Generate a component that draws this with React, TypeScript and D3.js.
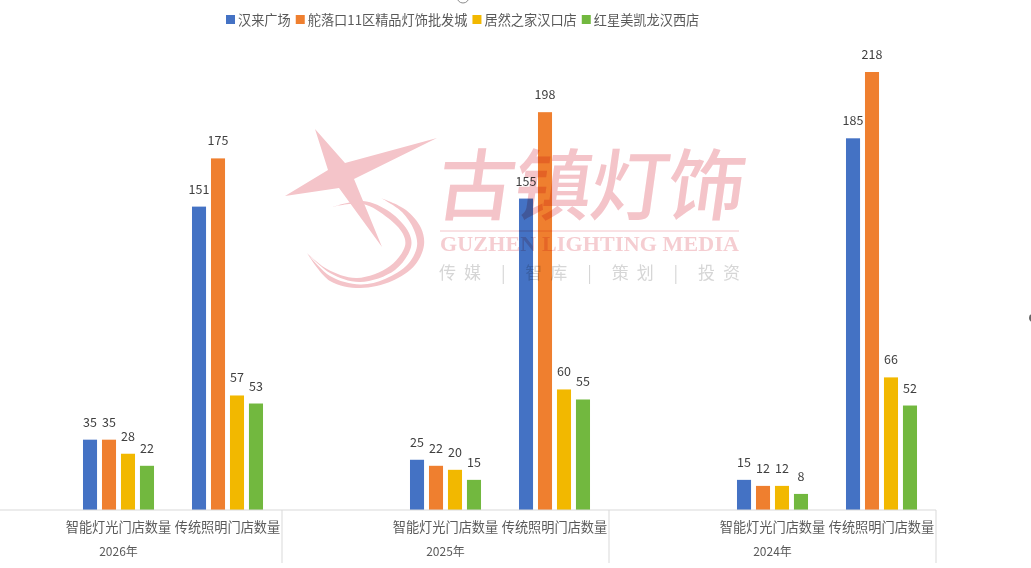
import React, { useEffect, useRef } from 'react';
import * as d3 from 'd3';

const years = ['2026年', '2025年', '2024年'];
const categories = ['', '智能灯光门店数量', '传统照明门店数量'];
const seriesNames = ['汉来广场', '舵落口11区精品灯饰批发城', '居然之家汉口店', '红星美凯龙汉西店'];
const seriesColors = ['#4472c4', '#ef7f2f', '#f2b800', '#72b83f'];

// one row per year, one value per series: [smart, traditional]
const hanlai = [[35, 151], [25, 155], [15, 185]];
const tuoluokou = [[35, 175], [22, 198], [12, 218]];
const juran = [[28, 57], [20, 60], [12, 66]];
const hongxing = [[22, 53], [15, 55], [8, 52]];
const seriesValues = [hanlai, tuoluokou, juran, hongxing];

const sans = '"Noto Sans CJK SC", "Noto Sans", sans-serif';
const pink = '#f4c4c9';

// Logo outline
const starPath = 'M315,129 L345,163 L437,138 L354,179 L382,247 L339,188 L285,196 L328,170 Z';
const innerSwooshOuter: [number, number][] = [[332, 207], [363, 201], [390, 212], [409, 233], [411, 247], [395, 270], [360, 282], [330, 273], [307, 253]];
const innerSwooshInner: [number, number][] = [[332, 207], [363, 204], [388, 218], [403, 234], [405, 246], [390, 266], [357, 278], [327, 269], [307, 253]];
const outerSwooshOuter: [number, number][] = [[381, 198], [406, 210], [421, 228], [424, 245], [415, 265], [392, 281], [360, 288], [330, 281], [307, 253]];
const outerSwooshInner: [number, number][] = [[381, 198], [402, 212], [414, 230], [417, 246], [408, 264], [385, 279], [360, 284.5], [330, 276], [307, 253]];

const crescent = (a: [number, number][], b: [number, number][]) => {
  const line = d3.line().curve(d3.curveCatmullRom);
  return `${line(a)}L${line([...b].reverse())!.slice(1)}Z`;
};

const App: React.FC = () => {
  const svgRef = useRef<SVGSVGElement | null>(null);

  useEffect(() => {
    const svgEl = svgRef.current;
    if (!svgEl) return;
    const svg = d3.select(svgEl);
    svg.selectAll('*').remove();

    const baseline = 510;
    const x0 = d3.scaleBand().domain(years).range([-45, 936]);
    const x1 = d3.scaleBand().domain(categories).range([0, x0.bandwidth()]);
    const x2 = d3.scaleBand().domain(seriesNames).range([0, x1.bandwidth()]).paddingInner(0.26).paddingOuter(1);
    const y = d3.scaleLinear().domain([0, 218]).range([baseline, 72]);

    // Bars and value labels
    const bars = svg.append('g');
    seriesNames.forEach((name, s) => {
      years.forEach((year, yi) => {
        categories.slice(1).forEach((cat, ci) => {
          const v = seriesValues[s][yi][ci];
          const bx = x0(year)! + x1(cat)! + x2(name)!;
          bars.append('rect')
            .attr('x', bx)
            .attr('y', y(v))
            .attr('width', x2.bandwidth())
            .attr('height', baseline - y(v))
            .attr('fill', seriesColors[s]);
          bars.append('text')
            .attr('x', bx + x2.bandwidth() / 2)
            .attr('y', y(v) - 13)
            .attr('text-anchor', 'middle')
            .attr('font-size', 12.5)
            .attr('fill', '#404040')
            .text(v);
        });
      });
    });

    // Axis
    const axis = svg.append('g');
    axis.append('line')
      .attr('x1', 0).attr('x2', x0.range()[1])
      .attr('y1', baseline).attr('y2', baseline)
      .attr('stroke', '#d9d9d9');
    years.forEach((year) => {
      const right = x0(year)! + x0.bandwidth();
      axis.append('line')
        .attr('x1', right).attr('x2', right)
        .attr('y1', baseline).attr('y2', 563)
        .attr('stroke', '#d9d9d9');
      axis.append('text')
        .attr('x', x0(year)! + x0.bandwidth() / 2)
        .attr('y', 556)
        .attr('text-anchor', 'middle')
        .attr('font-size', 12)
        .attr('fill', '#595959')
        .text(year);
      categories.slice(1).forEach((cat) => {
        axis.append('text')
          .attr('x', x0(year)! + x1(cat)! + x1.bandwidth() / 2)
          .attr('y', 532)
          .attr('text-anchor', 'middle')
          .attr('font-size', 13.2)
          .attr('fill', '#595959')
          .text(cat);
      });
    });

    // Legend, laid out from the measured text widths
    const legend = svg.append('g');
    let lx = 226;
    seriesNames.forEach((name, s) => {
      legend.append('rect')
        .attr('x', lx).attr('y', 15)
        .attr('width', 9).attr('height', 9)
        .attr('fill', seriesColors[s]);
      const t = legend.append('text')
        .attr('x', lx + 12)
        .attr('y', 25)
        .attr('font-size', 13.2)
        .attr('fill', '#595959')
        .text(name);
      lx += 12 + (t.node() as SVGTextElement).getComputedTextLength() + 5;
    });

    // Watermark logo
    const mark = svg.append('g').style('mix-blend-mode', 'multiply');
    mark.append('path').attr('fill', pink).attr('d', starPath);
    mark.append('path').attr('fill', pink).attr('d', crescent(innerSwooshOuter, innerSwooshInner));
    mark.append('path').attr('fill', pink).attr('d', crescent(outerSwooshOuter, outerSwooshInner));

    const brandChars = ['古', '镇', '灯', '饰'];
    const brandX = d3.scalePoint<string>().domain(brandChars).range([473, 703]);
    brandChars.forEach((c) => {
      mark.append('text')
        .attr('transform', `translate(${brandX(c)},214) skewX(-8)`)
        .attr('text-anchor', 'middle')
        .attr('font-size', 78)
        .attr('font-weight', 500)
        .attr('fill', pink)
        .text(c);
    });
    mark.append('line')
      .attr('x1', 440).attr('x2', 739)
      .attr('y1', 231).attr('y2', 231)
      .attr('stroke', pink);
    mark.append('text')
      .attr('x', 440)
      .attr('y', 251)
      .attr('font-family', '"Liberation Serif", serif')
      .attr('font-size', 22)
      .attr('font-weight', 700)
      .attr('textLength', 299)
      .attr('fill', '#f5cdd1')
      .text('GUZHEN LIGHTING MEDIA');
    mark.append('text')
      .attr('x', 439)
      .attr('y', 279)
      .attr('font-size', 17)
      .attr('textLength', 301)
      .attr('fill', '#d6d6d6')
      .text('传媒 | 智库 | 策划 | 投资');

    // Stray bits left over at the screenshot's edges
    svg.append('circle')
      .attr('cx', 463).attr('cy', -3).attr('r', 6)
      .attr('fill', 'none').attr('stroke', '#8c8c8c');
    svg.append('circle')
      .attr('cx', 1033).attr('cy', 318).attr('r', 4)
      .attr('fill', '#666');
  }, []);

  return (
    <svg
      ref={svgRef}
      width={1031}
      height={568}
      style={{ position: 'absolute', left: 0, top: 0, background: '#fff', fontFamily: sans }}
    />
  );
};

export default App;
